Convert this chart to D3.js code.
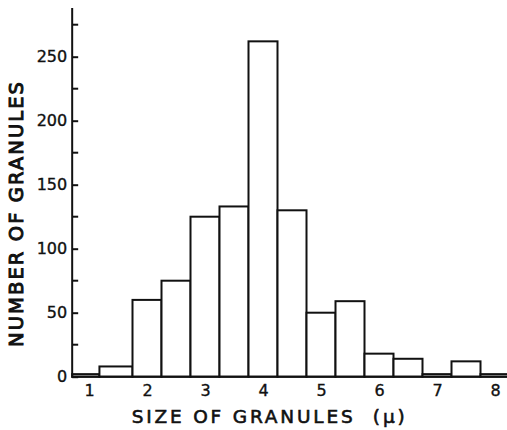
<!DOCTYPE html>
<html>
<head>
<meta charset="utf-8">
<script src="https://cdn.jsdelivr.net/npm/d3@7"></script>
<style>
  html, body { margin: 0; padding: 0; background: #fff; }
  svg { display: block; }
  text { font-family: "DejaVu Sans", sans-serif; fill: #111; }
</style>
</head>
<body>
<svg id="chart" width="507" height="430"></svg>
<script>
// Granule size histogram: bin edges (microns) and counts per bin
const binEdges = [0.71, 1.18, 1.75, 2.25, 2.75, 3.25, 3.75, 4.25, 4.75, 5.25, 5.75, 6.25, 6.75, 7.25, 7.75, 8.3];
const counts   = [2, 8, 60, 75, 125, 133, 262, 130, 50, 59, 18, 14, 2, 12, 2];

const xTickValues = [1, 2, 3, 4, 5, 6, 7, 8];
const yMajorTicks = [0, 50, 100, 150, 200, 250];
const yMinorTicks = [25, 75, 125, 175, 225, 275];
const yTop = 288;

const xTitle = "SIZE OF GRANULES\u00A0\u00A0(\u03BC)";
const yTitle = "NUMBER OF GRANULES";

const svg = d3.select("#chart");
const ink = "#111";

const x = d3.scaleLinear().domain([1, 8]).range([89, 495]);
const y = d3.scaleLinear().domain([0, 250]).range([376.7, 56.7]);

const bins = counts.map((c, i) => ({ x0: binEdges[i], x1: binEdges[i + 1], n: c }));

// bars: open rectangles sitting on the baseline
svg.append("g")
  .selectAll("rect")
  .data(bins)
  .join("rect")
  .attr("x", d => x(d.x0))
  .attr("y", d => y(d.n))
  .attr("width", d => x(d.x1) - x(d.x0))
  .attr("height", d => y(0) - y(d.n))
  .attr("fill", "#fff")
  .attr("stroke", ink)
  .attr("stroke-width", 2);

// baseline along the bottom of the bars
svg.append("line")
  .attr("x1", x(binEdges[0])).attr("x2", x(binEdges[binEdges.length - 1]))
  .attr("y1", y(0)).attr("y2", y(0))
  .attr("stroke", ink).attr("stroke-width", 2);

// y axis: inward ticks, labels on the left
const yAxis = d3.axisLeft(y)
  .tickValues(yMajorTicks)
  .tickSizeInner(-6)
  .tickSizeOuter(0)
  .tickPadding(5)
  .tickFormat(d3.format("d"));

const gy = svg.append("g")
  .attr("transform", `translate(${x(binEdges[0])},0)`)
  .call(yAxis);
gy.select(".domain").remove();
gy.selectAll(".tick line").attr("stroke", ink).attr("stroke-width", 2);
gy.selectAll(".tick text")
  .attr("font-size", 16)
  .attr("font-family", "DejaVu Sans, sans-serif")
  .attr("fill", ink)
  .attr("stroke", ink)
  .attr("stroke-width", 0.35);

gy.selectAll(".minor")
  .data(yMinorTicks)
  .join("line")
  .attr("class", "minor")
  .attr("x1", 0).attr("x2", 6)
  .attr("y1", d => y(d)).attr("y2", d => y(d))
  .attr("stroke", ink).attr("stroke-width", 2);

gy.append("line")
  .attr("x1", 0).attr("x2", 0)
  .attr("y1", y(0) + 1).attr("y2", y(yTop))
  .attr("stroke", ink).attr("stroke-width", 2);

// x axis labels only (no tick marks)
const xAxis = d3.axisBottom(x)
  .tickValues(xTickValues)
  .tickSize(0)
  .tickPadding(8)
  .tickFormat(d3.format("d"));

const gx = svg.append("g")
  .attr("transform", `translate(0,${y(0)})`)
  .call(xAxis);
gx.select(".domain").remove();
gx.selectAll(".tick text")
  .attr("font-size", 16)
  .attr("font-family", "DejaVu Sans, sans-serif")
  .attr("fill", ink)
  .attr("stroke", ink)
  .attr("stroke-width", 0.35);

// axis titles
svg.append("text")
  .attr("x", 131.7)
  .attr("y", 423.3)
  .attr("font-size", 18.5)
  .attr("stroke", ink)
  .attr("stroke-width", 0.6)
  .attr("textLength", 273)
  .attr("lengthAdjust", "spacing")
  .text(xTitle);

svg.append("text")
  .attr("transform", "translate(22.5,347) rotate(-90)")
  .attr("x", 0).attr("y", 0)
  .attr("font-size", 19.5)
  .attr("stroke", ink)
  .attr("stroke-width", 1)
  .attr("textLength", 265)
  .attr("lengthAdjust", "spacing")
  .text(yTitle);
</script>
</body>
</html>
